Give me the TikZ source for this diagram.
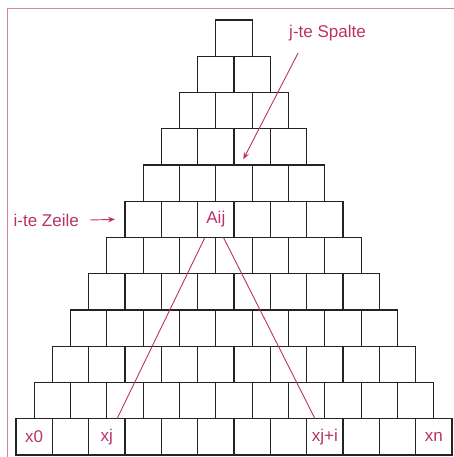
\documentclass[tikz,border=0pt]{standalone}
\usepackage{fontspec}
\setmainfont{Liberation Sans}
\usetikzlibrary{calc,arrows.meta}
\definecolor{mag}{RGB}{184,50,105}
\definecolor{framecol}{RGB}{212,135,140}
\definecolor{boxcol}{RGB}{35,35,35}
\begin{document}
\begin{tikzpicture}[x=1pt,y=-1pt,
  cell/.style={draw=boxcol,line width=1.1pt,minimum width=36.33pt,minimum height=36.25pt,inner sep=0pt,outer sep=0pt},
  lab/.style={text=mag,inner sep=0pt,font=\fontsize{17}{19}\selectfont},
  conn/.style={draw=mag,line width=0.9pt},
  arr/.style={draw=mag,line width=0.9pt,-{Stealth[length=7pt,width=5.5pt]}}]
\useasboundingbox (0,0) rectangle (454,457);
\draw[framecol,line width=1pt] (7,457) -- (7,9) -- (454,9);
\foreach \k in {1,...,12}{
  \foreach \m in {1,...,\k}{
    \node[cell] (c-\k-\m) at ({234+(\m-(\k+1)/2)*36.33},{20+(\k-0.5)*36.25}) {};
  }
}
\node[lab] (aij) at (c-6-3) {Aij};
\node[lab] (x0) at (c-12-1) {x0};
\node[lab] (xj) at (c-12-3) {xj};
\node[lab] (xji) at (c-12-9) {xj+i};
\node[lab] (xn) at (c-12-12) {xn};
\node[lab,anchor=east] (zeile) at (79,220) {i-te Zeile};
\node[lab] (spalte) at (327.5,33) {j-te Spalte};
\draw[conn] ($(c-6-3.south west)!0.2!(c-6-3.south east)$) -- ($(c-12-3.north west)!0.78!(c-12-3.north east)$);
\draw[conn] ($(c-6-3.south west)!0.71!(c-6-3.south east)$) -- ($(c-12-9.north west)!0.23!(c-12-9.north east)$);
\draw[arr] ([xshift=11pt]zeile.east) -- ([xshift=-10pt]c-6-1.west);
\coordinate (tip) at (243.3,159.3);
\draw[arr] ($(spalte.south west)+(9,12)$) -- (tip);
\end{tikzpicture}
\end{document}
